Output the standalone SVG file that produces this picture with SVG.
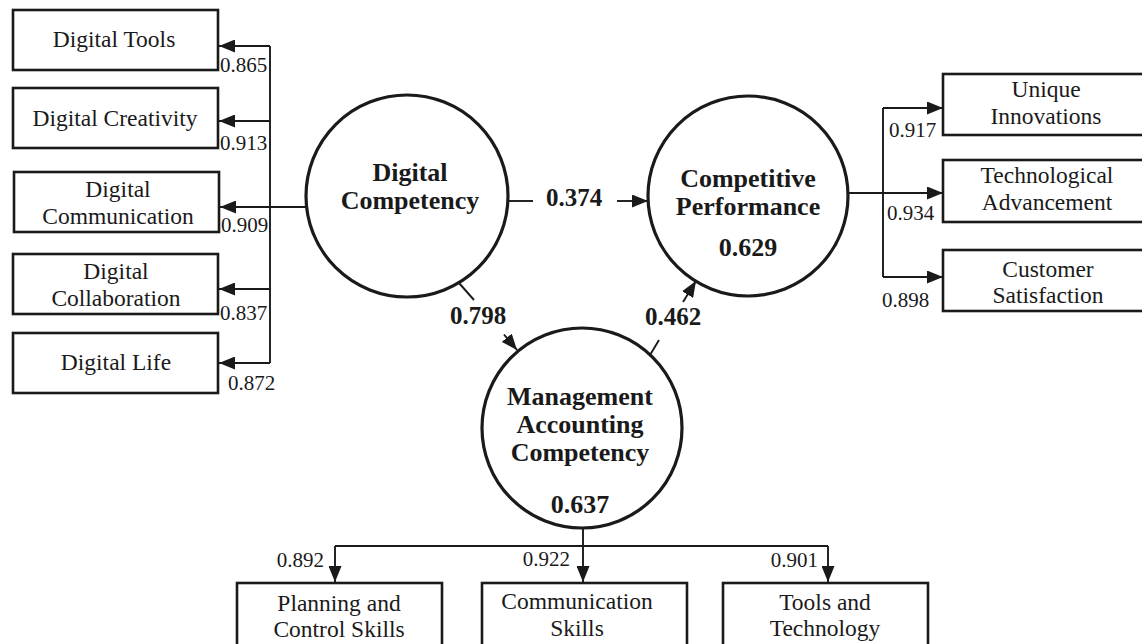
<svg xmlns="http://www.w3.org/2000/svg" width="1142" height="644" viewBox="0 0 1142 644">
  <defs>
    <style>
      .box { fill: #ffffff; stroke: #1a1a1a; stroke-width: 2.6; }
      .latent { fill: #ffffff; stroke: #1a1a1a; stroke-width: 3.2; }
      .conn { fill: none; stroke: #1a1a1a; stroke-width: 1.9; }
      .ind { font-family: "Liberation Serif", "Times New Roman", serif; font-size: 23.5px; fill: #1a1a1a; text-anchor: middle; }
      .lat { font-family: "Liberation Serif", "Times New Roman", serif; font-size: 26px; font-weight: bold; fill: #1a1a1a; text-anchor: middle; }
      .load { font-family: "Liberation Serif", "Times New Roman", serif; font-size: 21px; fill: #1a1a1a; }
      .path { font-family: "Liberation Serif", "Times New Roman", serif; font-size: 25px; font-weight: bold; fill: #1a1a1a; }
    </style>
    <marker id="arrow" markerUnits="userSpaceOnUse" markerWidth="17" markerHeight="13" viewBox="0 0 17 13" refX="16" refY="6.5" orient="auto">
      <path d="M0,0 L16,6.5 L0,13 Z" fill="#1a1a1a"/>
    </marker>
  </defs>
  <rect width="1142" height="644" fill="#ffffff"/>

  <!-- connectors -->
  <g id="connectors">
    <!-- Digital Competency indicators -->
    <line class="conn" x1="270" y1="46" x2="270" y2="363"/>
    <line class="conn" x1="270" y1="46" x2="219" y2="46" marker-end="url(#arrow)"/>
    <line class="conn" x1="270" y1="121" x2="219" y2="121" marker-end="url(#arrow)"/>
    <line class="conn" x1="307" y1="207" x2="220" y2="207" marker-end="url(#arrow)"/>
    <line class="conn" x1="270" y1="289" x2="219" y2="289" marker-end="url(#arrow)"/>
    <line class="conn" x1="270" y1="363" x2="219" y2="363" marker-end="url(#arrow)"/>
    <!-- Competitive Performance indicators -->
    <line class="conn" x1="883" y1="108" x2="883" y2="277"/>
    <line class="conn" x1="883" y1="108" x2="943" y2="108" marker-end="url(#arrow)"/>
    <line class="conn" x1="848" y1="193" x2="943" y2="193" marker-end="url(#arrow)"/>
    <line class="conn" x1="883" y1="277" x2="943" y2="277" marker-end="url(#arrow)"/>
    <!-- Management Accounting Competency indicators -->
    <line class="conn" x1="583" y1="529" x2="583" y2="582" marker-end="url(#arrow)"/>
    <line class="conn" x1="335" y1="546" x2="828" y2="546"/>
    <line class="conn" x1="335" y1="546" x2="335" y2="582" marker-end="url(#arrow)"/>
    <line class="conn" x1="828" y1="546" x2="828" y2="582" marker-end="url(#arrow)"/>
    <!-- structural paths -->
    <line class="conn" x1="509" y1="201" x2="533" y2="201"/>
    <line class="conn" x1="617" y1="201" x2="648" y2="201" marker-end="url(#arrow)"/>
    <line class="conn" x1="459" y1="283" x2="474" y2="300"/>
    <line class="conn" x1="504" y1="334.5" x2="517" y2="350" marker-end="url(#arrow)"/>
    <line class="conn" x1="650" y1="355" x2="659" y2="340"/>
    <line class="conn" x1="683" y1="302" x2="696" y2="281" marker-end="url(#arrow)"/>
  </g>

  <!-- path coefficients -->
  <g id="path-labels">
    <text class="path" x="546" y="206">0.374</text>
    <text class="path" x="450" y="324">0.798</text>
    <text class="path" x="645" y="325">0.462</text>
  </g>

  <!-- latent constructs -->
  <g id="digital-competency">
    <circle class="latent" cx="407" cy="196" r="101"/>
    <text class="lat" x="410" y="181">Digital</text>
    <text class="lat" x="410" y="209">Competency</text>
  </g>
  <g id="competitive-performance">
    <circle class="latent" cx="748" cy="196" r="100"/>
    <text class="lat" x="748" y="187">Competitive</text>
    <text class="lat" x="748" y="215">Performance</text>
    <text class="lat" x="748" y="256">0.629</text>
  </g>
  <g id="management-accounting-competency">
    <circle class="latent" cx="582" cy="428" r="100"/>
    <text class="lat" x="580" y="405">Management</text>
    <text class="lat" x="580" y="433">Accounting</text>
    <text class="lat" x="580" y="461">Competency</text>
    <text class="lat" x="580" y="513">0.637</text>
  </g>

  <!-- Digital Competency indicators -->
  <g id="digital-tools">
    <rect class="box" x="13" y="10" width="205" height="60"/>
    <text class="ind" x="114" y="47">Digital Tools</text>
    <text class="load" x="220" y="72">0.865</text>
  </g>
  <g id="digital-creativity">
    <rect class="box" x="13" y="88" width="205" height="60"/>
    <text class="ind" x="115" y="126">Digital Creativity</text>
    <text class="load" x="220" y="150">0.913</text>
  </g>
  <g id="digital-communication">
    <rect class="box" x="14" y="172" width="205" height="60"/>
    <text class="ind" x="118" y="197">Digital</text>
    <text class="ind" x="118" y="224">Communication</text>
    <text class="load" x="221" y="232">0.909</text>
  </g>
  <g id="digital-collaboration">
    <rect class="box" x="13" y="254" width="205" height="60"/>
    <text class="ind" x="116" y="279">Digital</text>
    <text class="ind" x="116" y="306">Collaboration</text>
    <text class="load" x="220" y="320">0.837</text>
  </g>
  <g id="digital-life">
    <rect class="box" x="13" y="333" width="205" height="60"/>
    <text class="ind" x="116" y="370">Digital Life</text>
    <text class="load" x="228" y="390">0.872</text>
  </g>

  <!-- Competitive Performance indicators -->
  <g id="unique-innovations">
    <rect class="box" x="943" y="74" width="205" height="61"/>
    <text class="ind" x="1046" y="97">Unique</text>
    <text class="ind" x="1046" y="124">Innovations</text>
    <text class="load" x="889" y="137">0.917</text>
  </g>
  <g id="technological-advancement">
    <rect class="box" x="943" y="160" width="205" height="62"/>
    <text class="ind" x="1047" y="183">Technological</text>
    <text class="ind" x="1047" y="210">Advancement</text>
    <text class="load" x="887" y="220">0.934</text>
  </g>
  <g id="customer-satisfaction">
    <rect class="box" x="943" y="250" width="205" height="61"/>
    <text class="ind" x="1048" y="277">Customer</text>
    <text class="ind" x="1048" y="303">Satisfaction</text>
    <text class="load" x="882" y="307">0.898</text>
  </g>

  <!-- Management Accounting Competency indicators -->
  <g id="planning-control-skills">
    <rect class="box" x="237" y="583" width="205" height="70"/>
    <text class="ind" x="339" y="611">Planning and</text>
    <text class="ind" x="339" y="637">Control Skills</text>
    <text class="load" x="324" y="567" text-anchor="end">0.892</text>
  </g>
  <g id="communication-skills">
    <rect class="box" x="482" y="583" width="205" height="70"/>
    <text class="ind" x="577" y="609">Communication</text>
    <text class="ind" x="577" y="636">Skills</text>
    <text class="load" x="570" y="566" text-anchor="end">0.922</text>
  </g>
  <g id="tools-technology">
    <rect class="box" x="723" y="583" width="205" height="70"/>
    <text class="ind" x="825" y="610">Tools and</text>
    <text class="ind" x="825" y="636">Technology</text>
    <text class="load" x="818" y="567" text-anchor="end">0.901</text>
  </g>
</svg>
